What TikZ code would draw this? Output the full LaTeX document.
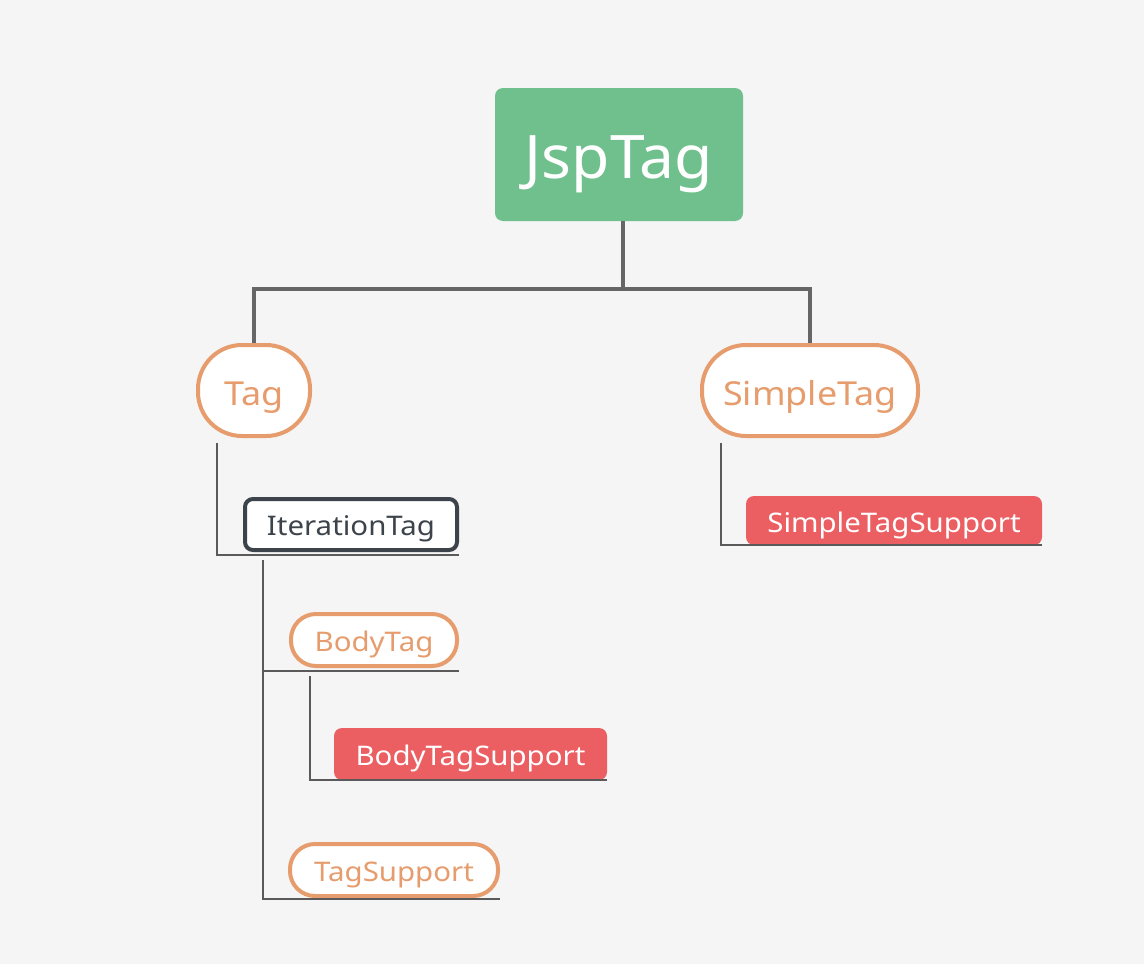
\documentclass[tikz,border=0pt]{standalone}
\usepackage{fontspec}
\setmainfont[FakeStretch=1.09]{Noto Sans}
\newfontfamily\rootfont[FakeStretch=1.04]{Noto Sans}
\definecolor{bg}{HTML}{F5F5F5}
\definecolor{jgreen}{HTML}{70C08E}
\definecolor{torange}{HTML}{E69C6C}
\definecolor{tred}{HTML}{EB5F63}
\definecolor{tdark}{HTML}{3D434A}
\definecolor{thick}{HTML}{666666}
\definecolor{thin}{HTML}{5A5A5A}
\tikzset{
  bigtext/.style={font=\fontsize{33}{35}\selectfont, text height=29pt, text depth=0pt},
  smalltext/.style={font=\fontsize{27}{29}\selectfont, text height=23pt, text depth=0pt},
  rootbox/.style={fill=jgreen, draw=none, rounded corners=8pt, inner sep=0pt, text=white,
    font=\rootfont\fontsize{60}{62}\selectfont, text height=47pt, text depth=0pt},
  pillbox/.style={fill=white, draw=torange, line width=4pt, inner sep=0pt, text=torange},
  darkbox/.style={fill=white, draw=tdark, line width=4pt, rounded corners=8pt, inner sep=0pt, text=tdark,
    smalltext, text height=21pt},
  redbox/.style={fill=tred, draw=none, rounded corners=8pt, inner sep=0pt, text=white, smalltext},
  thickline/.style={draw=thick, line width=4pt},
  thinline/.style={draw=thin, line width=2pt},
}
\begin{document}
\begin{tikzpicture}[x=1pt,y=-1pt]
\fill[bg] (0,0) rectangle (1144,964);
\useasboundingbox (0,0) rectangle (1144,964);

\node[rootbox, minimum width=248pt, minimum height=133pt] (jsp) at (619,154.5) {JspTag};
\node[pillbox, bigtext, rounded corners=44pt, minimum width=112pt, minimum height=91pt] (tag) at (254,390.5) {Tag};
\node[pillbox, bigtext, rounded corners=44pt, minimum width=216pt, minimum height=91pt] (simple) at (810,390.5) {SimpleTag};
\node[darkbox, minimum width=212pt, minimum height=51pt] (iter) at (351,524.5) {IterationTag};
\node[pillbox, smalltext, rounded corners=25pt, minimum width=166pt, minimum height=52pt] (body) at (374,640) {BodyTag};
\node[redbox, minimum width=273pt, minimum height=52pt] (bts) at (470.5,754) {BodyTagSupport};
\node[pillbox, smalltext, rounded corners=25pt, minimum width=208pt, minimum height=52pt] (tsup) at (394,870) {TagSupport};
\node[redbox, minimum width=296pt, minimum height=49pt] (sts) at (894,520.5) {SimpleTagSupport};

\coordinate (bus) at (623,289);
\draw[thickline] (jsp.south -| bus) -- (bus);
\draw[thickline] (bus) -| (tag.north);
\draw[thickline] (bus) -| (simple.north);

\draw[thinline] ([xshift=21pt,yshift=-5pt]tag.south west) |- ([yshift=-3pt]iter.south east);
\draw[thinline] ([xshift=20pt,yshift=-8pt]iter.south west) |- ([yshift=-1pt]tsup.south east);
\draw[thinline] ([xshift=20pt,yshift=-8pt]iter.south west) |- ([yshift=-3pt]body.south east);
\draw[thinline] ([xshift=21pt,yshift=-8pt]body.south west) |- (bts.south east);
\draw[thinline] ([xshift=21pt,yshift=-5pt]simple.south west) |- (sts.south east);
\end{tikzpicture}
\end{document}
